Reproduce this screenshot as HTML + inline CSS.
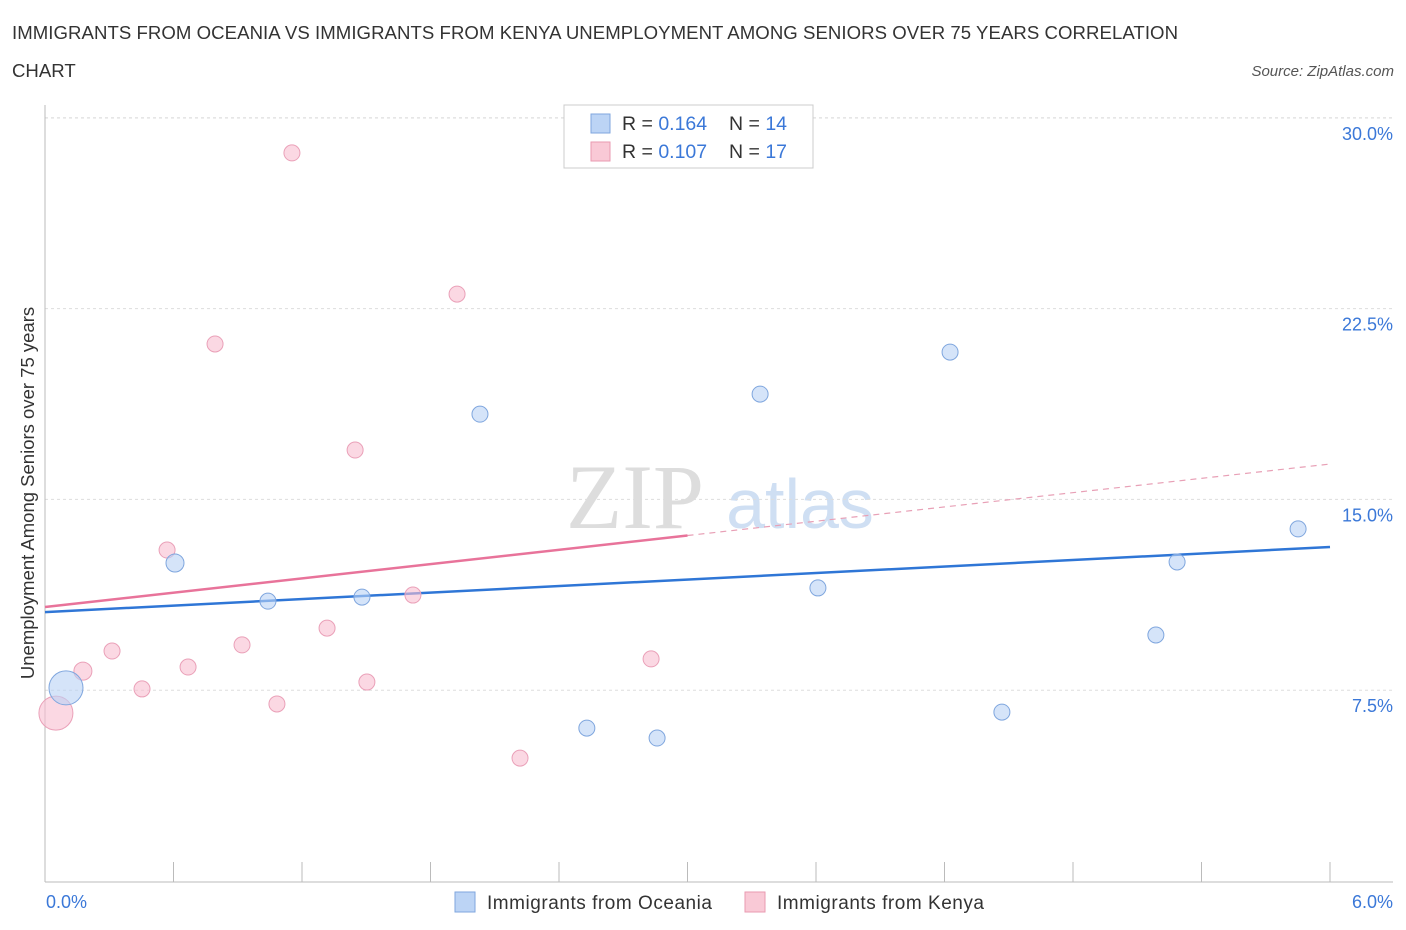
<!DOCTYPE html>
<html><head><meta charset="utf-8">
<style>
body{margin:0;background:#fff;font-family:"Liberation Sans",sans-serif;}
svg{display:block}
</style></head>
<body>
<svg width="1406" height="930" xmlns="http://www.w3.org/2000/svg" id="chart">
<text x="12" y="39" font-size="18.6" fill="#333" textLength="1166">IMMIGRANTS FROM OCEANIA VS IMMIGRANTS FROM KENYA UNEMPLOYMENT AMONG SENIORS OVER 75 YEARS CORRELATION</text>
<text x="12" y="77" font-size="18.6" fill="#333">CHART</text>
<text x="1394" y="76" font-size="15" fill="#555" font-style="italic" text-anchor="end">Source: ZipAtlas.com</text>
<text x="635" y="528" font-size="92" fill="#ddd" font-family="Liberation Serif,serif" text-anchor="middle">ZIP</text>
<text x="800" y="528" font-size="70" fill="#cfdff3" text-anchor="middle">atlas</text>
<g id="grid"></g>
<g id="axes"></g>
<g id="lines"></g>
<g id="points"></g>
<text transform="translate(34,493) rotate(-90)" font-size="18.5" fill="#333" text-anchor="middle">Unemployment Among Seniors over 75 years</text>
<text x="46" y="908" font-size="18" fill="#3b78d8">0.0%</text>
<text x="1393" y="908" font-size="18" fill="#3b78d8" text-anchor="end">6.0%</text>
<g>
<rect x="564" y="105" width="249" height="63" fill="#fff" stroke="#ccc"/>
<rect x="591" y="114" width="19" height="19" fill="#bcd4f5" stroke="#7fa6de"/>
<rect x="591" y="142" width="19" height="19" fill="#f9c9d6" stroke="#e99ab0"/>
<text x="622" y="130" font-size="19.5" fill="#333">R = <tspan fill="#3b78d8">0.164</tspan><tspan x="729">N = </tspan><tspan fill="#3b78d8">14</tspan></text>
<text x="622" y="158" font-size="19.5" fill="#333">R = <tspan fill="#3b78d8">0.107</tspan><tspan x="729">N = </tspan><tspan fill="#3b78d8">17</tspan></text>
</g>
<g>
<rect x="455" y="892" width="20" height="20" fill="#bcd4f5" stroke="#7fa6de"/>
<text x="487" y="909" font-size="19" fill="#333" textLength="225">Immigrants from Oceania</text>
<rect x="745" y="892" width="20" height="20" fill="#f9c9d6" stroke="#e99ab0"/>
<text x="777" y="909" font-size="19" fill="#333" textLength="207">Immigrants from Kenya</text>
</g>
</svg>
<script>
const yTicks=[7.5,15,22.5,30];
const yTickLabels=["7.5%","15.0%","22.5%","30.0%"];
const oceaniaX=[0.098,0.607,1.041,1.48,2.031,2.53,2.858,3.339,3.609,4.226,4.468,5.187,5.286,5.851];
const oceaniaY=[7.59,12.5,11.0,11.16,18.35,6.01,5.62,19.14,11.52,20.79,6.64,9.67,12.54,13.84];
const oceaniaR=[17,9,8,8,8,8,8,8,8,8,8,8,8,8];
const kenyaX=[0.051,0.177,0.313,0.453,0.570,0.668,0.794,0.920,1.083,1.153,1.317,1.448,1.503,1.718,1.924,2.218,2.830];
const kenyaY=[6.60,8.25,9.04,7.55,13.01,8.41,21.11,9.28,6.96,28.62,9.94,16.94,7.82,11.24,23.07,4.83,8.73];
const kenyaR=[17,9,8,8,8,8,8,8,8,8,8,8,8,8,8,8,8];
const oceaniaTrend=[10.57,13.13];
const kenyaTrend=[10.77,16.39];
const ns="http://www.w3.org/2000/svg";
const X=v=>45+v*1285/6, Y=v=>881-v*25.44;
function mk(tag,attrs,parent){const e=document.createElementNS(ns,tag);for(const k in attrs)e.setAttribute(k,attrs[k]);document.getElementById(parent).appendChild(e);return e;}
yTicks.forEach((t,i)=>{
 const g=mk('line',{x1:45,x2:1393,y1:Y(t),y2:Y(t),stroke:'#ddd','stroke-dasharray':'3,3'},'grid');
 
 
 const l=mk('text',{x:1393,y:Y(t)+22,'font-size':18,fill:'#3b78d8','text-anchor':'end'},'grid');
 l.textContent=yTickLabels[i];
 
 
});
const topGrid=mk('line',{x1:45,x2:1393,y1:118,y2:118,stroke:'#ddd','stroke-dasharray':'3,3'},'grid');


const ya=mk('line',{x1:45,x2:45,y1:105,y2:882,stroke:'#bbb'},'axes');


const xa=mk('line',{x1:45,x2:1393,y1:882,y2:882,stroke:'#bbb'},'axes');


for(let i=0;i<=10;i++){
 const t=mk('line',{x1:X(i*0.6),x2:X(i*0.6),y1:862,y2:882,stroke:'#bbb'},'axes');
 
 
}
const ol=mk('line',{x1:X(0),y1:Y(oceaniaTrend[0]),x2:X(6),y2:Y(oceaniaTrend[1]),stroke:'#2f76d6','stroke-width':2.5},'lines');


const km=kenyaTrend[0]+(kenyaTrend[1]-kenyaTrend[0])*0.5;
const kl=mk('line',{x1:X(0),y1:Y(kenyaTrend[0]),x2:X(3),y2:Y(km),stroke:'#e8739a','stroke-width':2.5},'lines');


const kd=mk('line',{x1:X(3),y1:Y(km),x2:X(6),y2:Y(kenyaTrend[1]),stroke:'#e8a0b6','stroke-width':1.2,'stroke-dasharray':'6,5'},'lines');


kenyaX.forEach((x,i)=>{
 const c=mk('circle',{cx:X(x),cy:Y(kenyaY[i]),r:kenyaR[i],fill:'rgba(248,190,208,0.6)',stroke:'#eaa0b8','stroke-width':1},'points');
 
 
});
oceaniaX.forEach((x,i)=>{
 const c=mk('circle',{cx:X(x),cy:Y(oceaniaY[i]),r:oceaniaR[i],fill:'rgba(185,210,245,0.6)',stroke:'#7fa6de','stroke-width':1},'points');
 
 
});
</script>
</body></html>
